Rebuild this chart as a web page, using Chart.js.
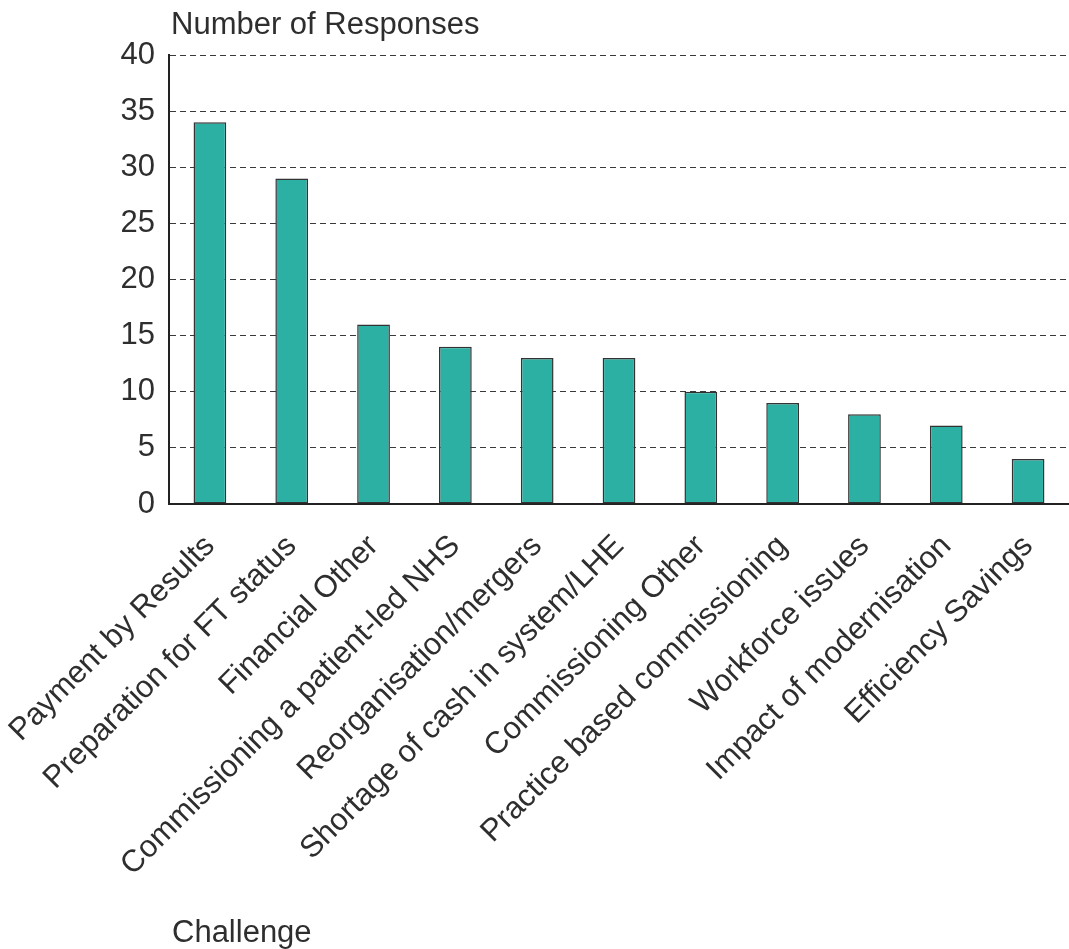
<!DOCTYPE html>
<html>
<head>
<meta charset="utf-8">
<title>Number of Responses by Challenge</title>
<script src="https://cdn.jsdelivr.net/npm/chart.js@4.4.1/dist/chart.umd.min.js"></script>
<style>
    html, body { margin: 0; padding: 0; background: #ffffff; }
    #chartWrap { width: 1069px; height: 949px; }
</style>
</head>
<body>
<div id="chartWrap"><canvas id="challengeChart" width="1069" height="949"></canvas></div>
<script>
// --- Data ---
const challenges = [
    'Payment by Results',
    'Preparation for FT status',
    'Financial Other',
    'Commissioning a patient-led NHS',
    'Reorganisation/mergers',
    'Shortage of cash in system/LHE',
    'Commissioning Other',
    'Practice based commissioning',
    'Workforce issues',
    'Impact of modernisation',
    'Efficiency Savings'
];
const responses = [34, 29, 16, 14, 13, 13, 10, 9, 8, 7, 4];
const yTicks = [0, 5, 10, 15, 20, 25, 30, 35, 40];

const yAxisLabel = 'Number of Responses';
const xAxisLabel = 'Challenge';

document.addEventListener('DOMContentLoaded', () => {
    const FONT = '"Liberation Sans", Arial, Helvetica, sans-serif';
    const TEXT = '#2e2e2e';

    // --- Axis titles drawn at the left edge of the plot ---
    const axisTitles = {
        id: 'axisTitles',
        afterDraw(chart) {
            const { ctx, chartArea } = chart;
            ctx.save();
            ctx.fillStyle = TEXT;
            ctx.font = '31px ' + FONT;
            ctx.textAlign = 'left';
            ctx.textBaseline = 'alphabetic';
            ctx.fillText(yAxisLabel, chartArea.left + 2, 34);
            ctx.fillText(xAxisLabel, chartArea.left + 3, 942);
            ctx.restore();
        }
    };

    const ctx = document.getElementById('challengeChart').getContext('2d');
    new Chart(ctx, {
        type: 'bar',
        data: {
            labels: challenges,
            datasets: [{
                label: yAxisLabel,
                data: responses,
                backgroundColor: '#2cb0a4',
                borderColor: '#333333',
                borderWidth: 1.5,
                borderSkipped: false,
                barPercentage: 0.4,
                categoryPercentage: 1.0
            }]
        },
        options: {
            responsive: false,
            animation: false,
            layout: { padding: { top: 55, left: 0, right: 0, bottom: 0 } },
            scales: {
                x: {
                    grid: { display: false, drawTicks: false },
                    border: { display: true, color: '#222222', width: 2 },
                    ticks: {
                        color: TEXT,
                        font: { family: FONT, size: 31 },
                        minRotation: 45,
                        maxRotation: 45,
                        autoSkip: false,
                        padding: 24
                    },
                    afterFit: (scale) => {
                        scale.height = 445;
                        // keep the rotated first label from pushing the plot right
                        scale.paddingLeft = 0;
                        scale.paddingRight = 0;
                    }
                },
                y: {
                    min: 0,
                    max: 40,
                    afterBuildTicks: (scale) => {
                        scale.ticks = yTicks.map(v => ({ value: v }));
                    },
                    grid: {
                        color: (c) => c.tick.value === 0 ? 'rgba(0,0,0,0)' : '#3a3a3a',
                        lineWidth: 1,
                        drawTicks: false
                    },
                    // dash applies to the grid lines, the axis line stays solid
                    border: { display: true, color: '#222222', width: 2, dash: [6, 4] },
                    ticks: {
                        color: TEXT,
                        font: { family: FONT, size: 31 },
                        padding: 14
                    },
                    afterFit: (scale) => { scale.width = 169; }
                }
            },
            plugins: {
                legend: { display: false },
                tooltip: { enabled: false },
                title: { display: false }
            }
        },
        plugins: [axisTitles]
    });
});
</script>
</body>
</html>
